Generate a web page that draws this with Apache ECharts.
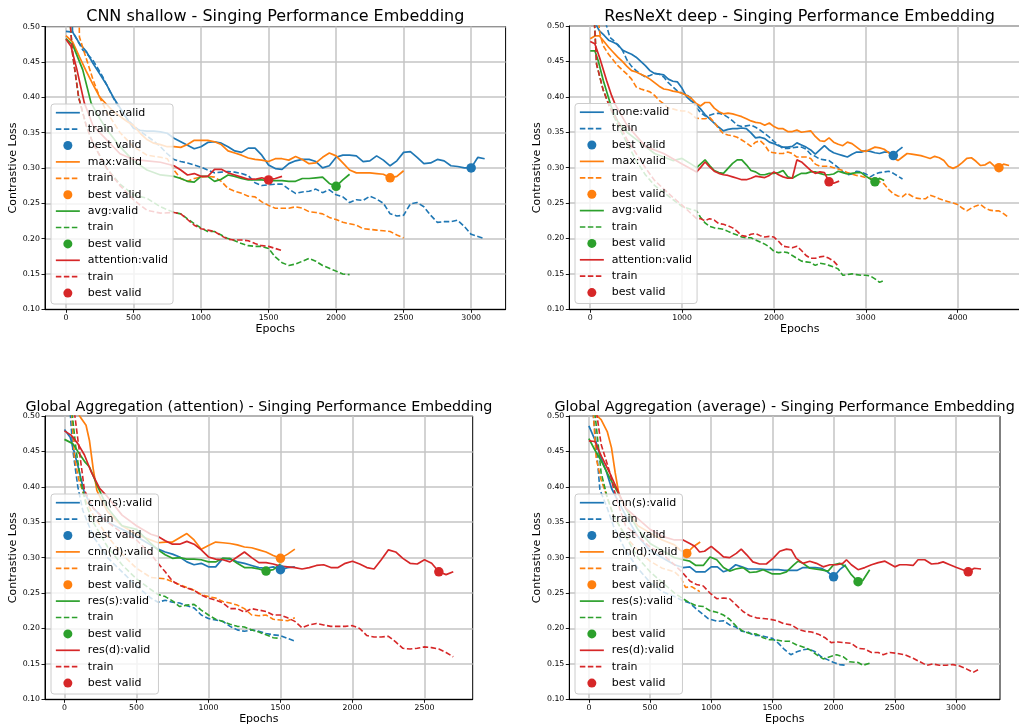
<!DOCTYPE html>
<html><head><meta charset="utf-8">
<script src="https://cdn.jsdelivr.net/npm/echarts@6/dist/echarts.min.js"></script>
<style>html,body{margin:0;padding:0;background:#fff}#c{width:1019px;height:725px}</style>
</head><body><div id="c"></div>
<script>
// ---------------- DATA ----------------
const titles = [
  'CNN shallow - Singing Performance Embedding',
  'ResNeXt deep - Singing Performance Embedding',
  'Global Aggregation (attention) - Singing Performance Embedding',
  'Global Aggregation (average) - Singing Performance Embedding'
];
const modelNames = [
  ['none','max','avg','attention'],
  ['none','max','avg','attention'],
  ['cnn(s)','cnn(d)','res(s)','res(d)'],
  ['cnn(s)','cnn(d)','res(s)','res(d)']
];
const xTicks = [
  [0,500,1000,1500,2000,2500,3000],
  [0,1000,2000,3000,4000],
  [0,500,1000,1500,2000,2500],
  [0,500,1000,1500,2000,2500,3000]
];
const xRanges = [[-155,3255],[-228,4788],[-135,2835],[-160,3360]];
const yRange = [0.10, 0.50, 0.05];

// ---- CNN shallow ----
const tl_none_valid = [[0,0.493],[50,0.492],[100,0.476],[150,0.465],[200,0.448],[250,0.433],[300,0.418],[350,0.40],[400,0.385],[450,0.37],[500,0.356],[550,0.353],[600,0.352],[650,0.352],[700,0.351],[750,0.349],[800,0.342],[850,0.337],[900,0.332],[950,0.327],[1000,0.330],[1050,0.336],[1100,0.337],[1150,0.335],[1200,0.33],[1250,0.324],[1300,0.322],[1350,0.328],[1400,0.328],[1450,0.318],[1500,0.304],[1550,0.299],[1600,0.298],[1650,0.306],[1700,0.31],[1750,0.312],[1800,0.312],[1850,0.309],[1900,0.30],[1950,0.303],[2000,0.315],[2050,0.318],[2100,0.318],[2150,0.317],[2200,0.309],[2250,0.31],[2300,0.317],[2350,0.311],[2400,0.303],[2450,0.31],[2500,0.322],[2550,0.323],[2600,0.315],[2650,0.306],[2700,0.307],[2750,0.312],[2800,0.31],[2850,0.303],[2900,0.302],[2950,0.30],[3000,0.30],[3050,0.315],[3100,0.313]];
const tl_none_train = [[0,0.85],[49,0.493],[124,0.467],[198,0.453],[272,0.429],[321,0.41],[371,0.392],[450,0.37],[500,0.36],[550,0.352],[600,0.345],[650,0.338],[700,0.33],[750,0.32],[800,0.312],[850,0.309],[900,0.307],[950,0.304],[1000,0.301],[1050,0.297],[1100,0.293],[1150,0.294],[1200,0.295],[1250,0.294],[1300,0.292],[1350,0.289],[1400,0.279],[1450,0.275],[1500,0.276],[1550,0.277],[1600,0.277],[1650,0.27],[1700,0.264],[1750,0.266],[1800,0.267],[1850,0.27],[1900,0.265],[1950,0.269],[2000,0.262],[2050,0.259],[2100,0.251],[2150,0.255],[2200,0.254],[2250,0.26],[2300,0.256],[2350,0.25],[2400,0.235],[2450,0.232],[2500,0.233],[2550,0.249],[2600,0.251],[2650,0.245],[2700,0.233],[2750,0.223],[2800,0.224],[2850,0.224],[2900,0.226],[2950,0.217],[3000,0.206],[3050,0.203],[3100,0.2]];
const tl_max_valid = [[0,0.487],[50,0.478],[100,0.457],[150,0.437],[200,0.418],[250,0.40],[300,0.39],[350,0.38],[400,0.373],[450,0.366],[500,0.36],[550,0.349],[600,0.34],[650,0.335],[700,0.333],[750,0.330],[800,0.330],[850,0.329],[900,0.333],[950,0.339],[1000,0.339],[1050,0.339],[1100,0.337],[1150,0.333],[1200,0.324],[1250,0.321],[1300,0.318],[1350,0.314],[1400,0.312],[1450,0.311],[1500,0.309],[1550,0.313],[1600,0.313],[1650,0.311],[1700,0.316],[1750,0.312],[1800,0.306],[1850,0.307],[1900,0.315],[1950,0.321],[2000,0.317],[2050,0.307],[2100,0.297],[2150,0.293],[2200,0.293],[2250,0.293],[2300,0.292],[2350,0.291],[2400,0.286],[2450,0.288],[2500,0.296]];
const tl_max_train = [[0,1.2],[90,0.6],[100,0.485],[150,0.455],[200,0.425],[250,0.40],[300,0.38],[400,0.35],[500,0.33],[600,0.318],[700,0.315],[750,0.313],[800,0.297],[850,0.285],[900,0.281],[950,0.285],[1000,0.287],[1050,0.288],[1100,0.287],[1150,0.281],[1200,0.271],[1250,0.267],[1300,0.264],[1350,0.26],[1400,0.259],[1450,0.252],[1500,0.247],[1550,0.243],[1600,0.243],[1650,0.243],[1700,0.245],[1750,0.243],[1800,0.238],[1850,0.237],[1900,0.235],[1950,0.23],[2000,0.227],[2050,0.223],[2100,0.221],[2150,0.219],[2200,0.214],[2250,0.213],[2300,0.212],[2350,0.211],[2400,0.21],[2450,0.205],[2500,0.201]];
const tl_avg_valid = [[0,0.483],[50,0.474],[124,0.439],[186,0.392],[250,0.37],[300,0.355],[400,0.33],[500,0.31],[600,0.297],[700,0.29],[800,0.288],[850,0.285],[900,0.281],[950,0.28],[1000,0.288],[1050,0.288],[1100,0.281],[1150,0.284],[1200,0.29],[1250,0.288],[1300,0.285],[1350,0.283],[1400,0.283],[1450,0.283],[1500,0.282],[1550,0.282],[1600,0.282],[1650,0.281],[1700,0.281],[1750,0.285],[1800,0.285],[1850,0.286],[1900,0.287],[1950,0.278],[2000,0.274],[2050,0.283],[2100,0.291]];
const tl_avg_train = [[0,0.85],[25,0.52],[50,0.46],[94,0.40],[150,0.36],[200,0.335],[300,0.30],[400,0.277],[500,0.262],[600,0.257],[700,0.245],[800,0.237],[850,0.235],[900,0.228],[950,0.221],[1000,0.215],[1050,0.21],[1100,0.21],[1150,0.205],[1200,0.2],[1250,0.197],[1300,0.193],[1350,0.19],[1400,0.189],[1450,0.189],[1500,0.186],[1550,0.174],[1600,0.166],[1650,0.162],[1700,0.164],[1750,0.168],[1800,0.172],[1850,0.168],[1900,0.162],[1950,0.158],[2000,0.154],[2050,0.15],[2100,0.149]];
const tl_att_valid = [[0,0.482],[37,0.472],[80,0.44],[136,0.392],[200,0.36],[300,0.34],[400,0.32],[500,0.312],[600,0.31],[700,0.308],[800,0.303],[850,0.297],[900,0.29],[950,0.292],[1000,0.288],[1050,0.288],[1100,0.298],[1150,0.298],[1200,0.293],[1250,0.29],[1300,0.287],[1350,0.284],[1400,0.284],[1450,0.286],[1500,0.283],[1550,0.285],[1600,0.288]];
const tl_att_train = [[0,0.85],[25,0.52],[50,0.46],[94,0.40],[150,0.36],[200,0.335],[300,0.3],[400,0.275],[500,0.255],[600,0.24],[700,0.236],[800,0.237],[850,0.235],[900,0.227],[950,0.219],[1000,0.214],[1050,0.212],[1100,0.21],[1150,0.204],[1200,0.199],[1250,0.198],[1300,0.198],[1350,0.197],[1400,0.193],[1450,0.19],[1500,0.189],[1550,0.186],[1600,0.183]];
const tl_best = [[3000,0.300],[2400,0.286],[2000,0.274],[1500,0.283]];

// ---- ResNeXt deep ----
const tr_none_valid = [[0,0.52],[50,0.505],[100,0.493],[150,0.487],[200,0.48],[250,0.477],[300,0.474],[350,0.466],[400,0.463],[450,0.46],[500,0.456],[550,0.45],[600,0.444],[650,0.437],[700,0.433],[750,0.432],[800,0.431],[850,0.425],[900,0.422],[950,0.421],[1000,0.412],[1050,0.4],[1100,0.394],[1150,0.39],[1200,0.383],[1250,0.375],[1300,0.369],[1350,0.363],[1400,0.357],[1450,0.352],[1500,0.354],[1550,0.355],[1600,0.355],[1650,0.356],[1700,0.355],[1750,0.349],[1800,0.342],[1850,0.343],[1900,0.341],[1950,0.336],[2000,0.334],[2050,0.331],[2100,0.329],[2150,0.329],[2200,0.33],[2250,0.335],[2300,0.332],[2350,0.329],[2400,0.325],[2450,0.319],[2500,0.325],[2550,0.331],[2600,0.325],[2650,0.321],[2700,0.319],[2750,0.317],[2800,0.315],[2850,0.319],[2900,0.322],[2950,0.322],[3000,0.324],[3050,0.323],[3100,0.321],[3150,0.32],[3200,0.322],[3250,0.322],[3300,0.317],[3350,0.324],[3400,0.329]];
const tr_none_train = [[0,0.9],[150,0.52],[178,0.5],[214,0.484],[250,0.48],[300,0.473],[350,0.466],[400,0.452],[450,0.443],[500,0.437],[550,0.432],[600,0.428],[650,0.43],[700,0.433],[750,0.432],[800,0.428],[850,0.42],[900,0.414],[950,0.408],[1000,0.405],[1050,0.403],[1100,0.398],[1150,0.386],[1200,0.378],[1250,0.373],[1300,0.374],[1350,0.376],[1400,0.377],[1450,0.375],[1500,0.371],[1550,0.366],[1600,0.36],[1650,0.358],[1700,0.359],[1750,0.36],[1800,0.357],[1850,0.353],[1900,0.348],[1950,0.343],[2000,0.337],[2050,0.332],[2100,0.327],[2150,0.327],[2200,0.328],[2250,0.329],[2300,0.329],[2350,0.326],[2400,0.319],[2450,0.316],[2500,0.312],[2550,0.311],[2600,0.31],[2650,0.305],[2700,0.3],[2750,0.294],[2800,0.29],[2850,0.291],[2900,0.295],[2950,0.294],[3000,0.291],[3050,0.287],[3100,0.291],[3150,0.293],[3200,0.294],[3250,0.295],[3300,0.292],[3350,0.288],[3400,0.284]];
const tr_max_valid = [[0,0.482],[50,0.486],[100,0.486],[150,0.478],[200,0.47],[250,0.463],[300,0.456],[350,0.45],[400,0.443],[450,0.437],[500,0.435],[550,0.432],[600,0.429],[650,0.425],[700,0.42],[750,0.415],[800,0.411],[850,0.41],[900,0.408],[950,0.407],[1000,0.405],[1050,0.402],[1100,0.398],[1150,0.391],[1200,0.387],[1250,0.392],[1300,0.392],[1350,0.384],[1400,0.379],[1450,0.376],[1500,0.377],[1550,0.376],[1600,0.374],[1650,0.372],[1700,0.369],[1750,0.366],[1800,0.364],[1850,0.363],[1900,0.36],[1950,0.363],[2000,0.358],[2050,0.355],[2100,0.355],[2150,0.351],[2200,0.351],[2250,0.353],[2300,0.35],[2350,0.351],[2400,0.352],[2450,0.344],[2500,0.338],[2550,0.337],[2600,0.342],[2650,0.336],[2700,0.333],[2750,0.331],[2800,0.336],[2850,0.334],[2900,0.329],[2950,0.324],[3000,0.323],[3050,0.326],[3100,0.329],[3150,0.328],[3200,0.326],[3250,0.321],[3300,0.314],[3350,0.31],[3400,0.315],[3450,0.32],[3500,0.319],[3550,0.318],[3600,0.317],[3650,0.315],[3700,0.313],[3750,0.316],[3800,0.314],[3850,0.31],[3900,0.302],[3950,0.299],[4000,0.302],[4050,0.307],[4100,0.313],[4150,0.314],[4200,0.309],[4250,0.303],[4300,0.304],[4350,0.308],[4400,0.302],[4450,0.30],[4500,0.305],[4560,0.303]];
const tr_max_train = [[0,0.9],[80,0.52],[105,0.489],[142,0.472],[200,0.46],[250,0.452],[300,0.444],[350,0.438],[400,0.432],[450,0.425],[500,0.414],[550,0.411],[600,0.409],[650,0.407],[700,0.402],[750,0.395],[800,0.39],[850,0.384],[900,0.383],[950,0.381],[1000,0.38],[1050,0.38],[1100,0.376],[1150,0.37],[1200,0.369],[1250,0.369],[1300,0.371],[1350,0.364],[1400,0.355],[1450,0.348],[1500,0.346],[1550,0.345],[1600,0.343],[1650,0.339],[1700,0.335],[1750,0.33],[1800,0.336],[1850,0.338],[1900,0.332],[1950,0.322],[2000,0.321],[2050,0.32],[2100,0.32],[2150,0.322],[2200,0.32],[2250,0.315],[2300,0.315],[2350,0.315],[2400,0.313],[2450,0.305],[2500,0.302],[2550,0.302],[2600,0.302],[2650,0.3],[2700,0.298],[2750,0.296],[2800,0.293],[2850,0.291],[2900,0.289],[2950,0.288],[3000,0.286],[3050,0.285],[3100,0.283],[3150,0.28],[3200,0.277],[3250,0.269],[3300,0.263],[3350,0.26],[3400,0.259],[3450,0.264],[3500,0.26],[3550,0.257],[3600,0.256],[3650,0.256],[3700,0.261],[3750,0.259],[3800,0.256],[3850,0.254],[3900,0.252],[3950,0.25],[4000,0.248],[4050,0.243],[4100,0.239],[4150,0.243],[4200,0.246],[4250,0.248],[4300,0.243],[4350,0.24],[4400,0.239],[4450,0.239],[4500,0.235],[4540,0.231]];
const tr_avg_valid = [[0,0.465],[50,0.465],[87,0.451],[142,0.423],[196,0.40],[232,0.385],[300,0.365],[400,0.35],[500,0.34],[600,0.33],[700,0.32],[800,0.315],[900,0.31],[1000,0.313],[1100,0.305],[1158,0.30],[1200,0.305],[1250,0.311],[1300,0.303],[1350,0.296],[1400,0.293],[1450,0.292],[1500,0.299],[1550,0.306],[1600,0.311],[1650,0.311],[1700,0.304],[1750,0.296],[1800,0.294],[1850,0.29],[1900,0.29],[1950,0.292],[2000,0.292],[2050,0.293],[2100,0.296],[2150,0.287],[2200,0.285],[2250,0.289],[2300,0.292],[2350,0.292],[2400,0.294],[2450,0.294],[2500,0.292],[2550,0.29],[2600,0.29],[2650,0.291],[2700,0.295],[2750,0.293],[2800,0.291],[2850,0.292],[2900,0.293],[2950,0.293],[3000,0.288],[3050,0.284],[3100,0.28],[3150,0.285],[3200,0.282]];
const tr_avg_train = [[0,0.9],[40,0.52],[69,0.446],[140,0.41],[214,0.385],[300,0.36],[400,0.335],[500,0.31],[600,0.29],[700,0.275],[800,0.265],[900,0.255],[1000,0.245],[1100,0.241],[1158,0.239],[1200,0.23],[1250,0.222],[1300,0.217],[1350,0.215],[1400,0.214],[1450,0.213],[1500,0.21],[1550,0.207],[1600,0.205],[1650,0.202],[1700,0.201],[1750,0.201],[1800,0.198],[1850,0.195],[1900,0.192],[1950,0.188],[2000,0.182],[2050,0.18],[2100,0.181],[2150,0.18],[2200,0.176],[2250,0.172],[2300,0.168],[2350,0.167],[2400,0.166],[2450,0.162],[2500,0.165],[2550,0.164],[2600,0.162],[2650,0.16],[2700,0.157],[2750,0.148],[2800,0.149],[2850,0.15],[2900,0.149],[2950,0.148],[3000,0.148],[3050,0.147],[3100,0.143],[3150,0.138],[3200,0.141]];
const tr_att_valid = [[0,0.478],[50,0.475],[105,0.454],[178,0.423],[232,0.402],[269,0.39],[400,0.36],[600,0.33],[800,0.32],[1000,0.305],[1158,0.294],[1200,0.30],[1250,0.308],[1300,0.301],[1350,0.295],[1400,0.292],[1450,0.29],[1500,0.289],[1550,0.287],[1600,0.285],[1650,0.283],[1700,0.283],[1750,0.285],[1800,0.288],[1850,0.287],[1900,0.286],[1950,0.289],[2000,0.294],[2050,0.29],[2100,0.287],[2150,0.285],[2200,0.285],[2250,0.311],[2300,0.308],[2350,0.302],[2400,0.296],[2450,0.292],[2500,0.294],[2550,0.293],[2600,0.28],[2650,0.278],[2710,0.281]];
const tr_att_train = [[0,0.9],[40,0.52],[69,0.446],[140,0.41],[214,0.385],[300,0.365],[400,0.34],[500,0.32],[600,0.3],[700,0.282],[800,0.27],[900,0.258],[1000,0.247],[1100,0.235],[1158,0.228],[1200,0.228],[1250,0.225],[1300,0.228],[1350,0.226],[1400,0.221],[1450,0.22],[1500,0.218],[1550,0.215],[1600,0.21],[1650,0.204],[1700,0.203],[1750,0.206],[1800,0.207],[1850,0.204],[1900,0.202],[1950,0.203],[2000,0.202],[2050,0.196],[2100,0.189],[2150,0.188],[2200,0.187],[2250,0.189],[2300,0.183],[2350,0.176],[2400,0.172],[2450,0.172],[2500,0.174],[2550,0.175],[2600,0.172],[2650,0.168],[2700,0.161]];
const tr_best = [[3300,0.317],[4450,0.300],[3100,0.280],[2600,0.280]];

// ---- Global Aggregation (attention) ----
const bl_cnns_valid = [[0,0.481],[40,0.47],[93,0.43],[139,0.391],[200,0.37],[300,0.35],[400,0.34],[500,0.33],[600,0.318],[650,0.312],[700,0.308],[750,0.305],[800,0.301],[850,0.294],[900,0.29],[950,0.292],[1000,0.287],[1050,0.287],[1100,0.299],[1150,0.298],[1200,0.294],[1250,0.292],[1300,0.289],[1350,0.286],[1400,0.285],[1450,0.287],[1500,0.283],[1550,0.286],[1600,0.287]];
const bl_cnns_train = [[0,0.9],[35,0.52],[58,0.452],[93,0.40],[127,0.367],[200,0.33],[300,0.3],[400,0.28],[500,0.26],[600,0.243],[650,0.237],[700,0.24],[750,0.237],[800,0.236],[850,0.232],[900,0.229],[950,0.219],[1000,0.214],[1050,0.212],[1100,0.21],[1150,0.203],[1200,0.198],[1250,0.196],[1300,0.198],[1350,0.196],[1400,0.193],[1450,0.191],[1500,0.19],[1550,0.186],[1600,0.182]];
const bl_cnnd_valid = [[0,0.56],[50,0.53],[105,0.5],[150,0.487],[174,0.465],[200,0.425],[225,0.395],[260,0.38],[300,0.365],[400,0.345],[500,0.333],[600,0.325],[650,0.321],[700,0.322],[750,0.322],[800,0.328],[850,0.334],[900,0.325],[950,0.312],[1000,0.317],[1050,0.322],[1100,0.321],[1150,0.32],[1200,0.318],[1250,0.315],[1300,0.314],[1350,0.311],[1400,0.308],[1450,0.303],[1500,0.299],[1550,0.305],[1600,0.312]];
const bl_cnnd_train = [[0,0.9],[45,0.52],[70,0.44],[100,0.41],[150,0.38],[200,0.36],[300,0.33],[400,0.305],[500,0.285],[600,0.272],[650,0.271],[700,0.27],[750,0.266],[800,0.262],[850,0.258],[900,0.254],[950,0.248],[1000,0.245],[1050,0.243],[1100,0.238],[1150,0.236],[1200,0.233],[1250,0.228],[1300,0.219],[1350,0.218],[1400,0.219],[1450,0.213],[1500,0.212],[1550,0.211],[1600,0.215]];
const bl_ress_valid = [[0,0.467],[58,0.461],[93,0.45],[139,0.436],[174,0.428],[232,0.40],[300,0.37],[400,0.345],[500,0.34],[600,0.32],[650,0.311],[700,0.304],[750,0.299],[800,0.3],[850,0.298],[900,0.298],[950,0.297],[1000,0.294],[1050,0.294],[1100,0.299],[1150,0.299],[1200,0.292],[1250,0.286],[1300,0.286],[1350,0.284],[1400,0.281],[1450,0.283],[1500,0.291]];
const bl_ress_train = [[0,0.9],[45,0.52],[81,0.452],[116,0.405],[150,0.375],[200,0.35],[300,0.315],[400,0.29],[500,0.27],[600,0.255],[650,0.248],[700,0.245],[750,0.239],[800,0.231],[850,0.233],[900,0.234],[950,0.226],[1000,0.219],[1050,0.213],[1100,0.21],[1150,0.206],[1200,0.203],[1250,0.202],[1300,0.198],[1350,0.195],[1400,0.191],[1450,0.187],[1500,0.186]];
const bl_resd_valid = [[0,0.479],[46,0.473],[93,0.461],[139,0.445],[186,0.421],[244,0.398],[290,0.388],[400,0.36],[500,0.345],[600,0.333],[650,0.33],[700,0.324],[750,0.319],[800,0.319],[850,0.323],[900,0.319],[950,0.311],[1000,0.301],[1050,0.298],[1100,0.297],[1150,0.294],[1200,0.301],[1250,0.308],[1300,0.30],[1350,0.293],[1400,0.293],[1450,0.291],[1500,0.288],[1550,0.287],[1600,0.286],[1650,0.284],[1700,0.286],[1750,0.289],[1800,0.29],[1850,0.286],[1900,0.286],[1950,0.292],[2000,0.295],[2050,0.291],[2100,0.286],[2150,0.284],[2200,0.297],[2250,0.311],[2300,0.308],[2350,0.299],[2400,0.292],[2450,0.291],[2500,0.297],[2550,0.292],[2600,0.28],[2650,0.276],[2700,0.28]];
const bl_resd_train = [[0,0.9],[60,0.52],[104,0.45],[139,0.395],[174,0.381],[200,0.37],[300,0.35],[400,0.335],[500,0.325],[600,0.305],[650,0.292],[700,0.28],[750,0.267],[800,0.261],[850,0.257],[900,0.254],[950,0.247],[1000,0.243],[1050,0.24],[1100,0.236],[1150,0.228],[1200,0.228],[1250,0.223],[1300,0.228],[1350,0.226],[1400,0.224],[1450,0.219],[1500,0.219],[1550,0.215],[1600,0.21],[1650,0.201],[1700,0.205],[1750,0.207],[1800,0.205],[1850,0.203],[1900,0.203],[1950,0.203],[2000,0.204],[2050,0.2],[2100,0.19],[2150,0.188],[2200,0.188],[2250,0.189],[2300,0.181],[2350,0.172],[2400,0.171],[2450,0.172],[2500,0.174],[2550,0.173],[2600,0.171],[2650,0.166],[2700,0.16]];
const bl_best = [[1500,0.283],[1500,0.299],[1400,0.281],[2600,0.280]];

// ---- Global Aggregation (average) ----
const br_cnns_valid = [[0,0.486],[63,0.461],[90,0.445],[144,0.421],[185,0.398],[226,0.384],[300,0.36],[400,0.33],[500,0.31],[600,0.30],[700,0.29],[770,0.286],[825,0.287],[875,0.28],[950,0.28],[1000,0.287],[1050,0.287],[1100,0.28],[1150,0.283],[1200,0.29],[1250,0.287],[1300,0.284],[1350,0.284],[1400,0.284],[1450,0.283],[1500,0.283],[1550,0.283],[1600,0.282],[1650,0.282],[1700,0.282],[1750,0.286],[1800,0.286],[1850,0.286],[1900,0.285],[1950,0.28],[2000,0.273],[2050,0.283],[2100,0.29]];
const br_cnns_train = [[0,0.9],[25,0.52],[49,0.48],[90,0.396],[150,0.37],[200,0.345],[300,0.31],[400,0.285],[500,0.265],[600,0.252],[700,0.245],[770,0.239],[825,0.236],[875,0.228],[925,0.221],[975,0.214],[1050,0.21],[1100,0.211],[1150,0.205],[1200,0.202],[1250,0.196],[1300,0.195],[1350,0.19],[1400,0.19],[1450,0.188],[1500,0.186],[1550,0.179],[1600,0.17],[1650,0.163],[1700,0.167],[1750,0.17],[1800,0.171],[1850,0.167],[1900,0.16],[1950,0.156],[2000,0.152],[2050,0.149],[2100,0.148]];
const br_cnnd_valid = [[0,0.515],[50,0.503],[100,0.495],[150,0.478],[185,0.455],[215,0.42],[245,0.39],[300,0.37],[400,0.345],[500,0.335],[600,0.325],[700,0.318],[750,0.31],[800,0.306],[850,0.315],[910,0.322]];
const br_cnnd_train = [[0,0.9],[30,0.52],[60,0.44],[100,0.41],[200,0.36],[300,0.33],[400,0.31],[500,0.295],[600,0.285],[700,0.28],[750,0.272],[790,0.258],[840,0.259],[907,0.252]];
const br_ress_valid = [[0,0.468],[49,0.452],[103,0.436],[172,0.412],[240,0.391],[300,0.37],[400,0.34],[500,0.32],[600,0.31],[700,0.30],[770,0.297],[825,0.295],[875,0.289],[935,0.289],[990,0.301],[1045,0.297],[1100,0.286],[1150,0.281],[1200,0.284],[1260,0.286],[1315,0.279],[1370,0.28],[1425,0.283],[1500,0.277],[1560,0.277],[1615,0.28],[1670,0.289],[1710,0.295],[1750,0.292],[1805,0.285],[1890,0.283],[1955,0.281],[2000,0.29],[2050,0.292],[2100,0.287],[2145,0.276],[2200,0.266],[2240,0.268],[2295,0.283]];
const br_ress_train = [[0,0.9],[40,0.52],[100,0.42],[150,0.385],[200,0.36],[300,0.33],[400,0.3],[500,0.28],[600,0.265],[700,0.25],[770,0.242],[825,0.236],[880,0.232],[935,0.231],[990,0.225],[1045,0.223],[1100,0.219],[1150,0.213],[1205,0.203],[1260,0.196],[1315,0.193],[1370,0.192],[1425,0.187],[1480,0.184],[1530,0.184],[1590,0.182],[1640,0.182],[1695,0.177],[1750,0.174],[1805,0.17],[1860,0.163],[1915,0.157],[1970,0.16],[2025,0.163],[2080,0.16],[2130,0.153],[2200,0.152],[2240,0.148],[2295,0.151]];
const br_resd_valid = [[0,0.465],[49,0.464],[103,0.443],[172,0.419],[240,0.393],[300,0.37],[400,0.355],[500,0.34],[600,0.33],[700,0.325],[770,0.325],[825,0.32],[865,0.316],[905,0.308],[945,0.309],[1000,0.316],[1055,0.308],[1100,0.301],[1150,0.30],[1205,0.306],[1245,0.312],[1290,0.304],[1340,0.294],[1395,0.291],[1450,0.291],[1505,0.299],[1560,0.309],[1615,0.312],[1655,0.311],[1695,0.299],[1750,0.292],[1805,0.295],[1860,0.292],[1915,0.287],[1970,0.29],[2025,0.29],[2075,0.292],[2105,0.297],[2145,0.29],[2200,0.283],[2255,0.286],[2310,0.29],[2365,0.293],[2420,0.295],[2460,0.291],[2500,0.287],[2540,0.29],[2595,0.29],[2650,0.289],[2690,0.297],[2745,0.297],[2800,0.291],[2855,0.292],[2895,0.294],[2950,0.29],[3005,0.286],[3055,0.283],[3100,0.28],[3150,0.285],[3205,0.284]];
const br_resd_train = [[0,0.9],[50,0.52],[100,0.46],[172,0.42],[199,0.40],[250,0.37],[300,0.345],[400,0.33],[500,0.315],[600,0.305],[700,0.29],[770,0.278],[825,0.267],[880,0.262],[935,0.26],[990,0.25],[1045,0.242],[1100,0.243],[1150,0.242],[1205,0.233],[1260,0.224],[1315,0.218],[1370,0.215],[1425,0.214],[1480,0.213],[1535,0.211],[1590,0.207],[1655,0.205],[1710,0.199],[1765,0.196],[1820,0.195],[1875,0.192],[1930,0.187],[1980,0.18],[2035,0.181],[2090,0.18],[2145,0.179],[2200,0.172],[2255,0.171],[2310,0.166],[2365,0.166],[2405,0.163],[2460,0.166],[2515,0.165],[2580,0.163],[2650,0.158],[2705,0.153],[2760,0.148],[2810,0.15],[2865,0.148],[2920,0.148],[2975,0.149],[3030,0.147],[3085,0.143],[3140,0.138],[3195,0.143]];
const br_best = [[2000,0.273],[800,0.306],[2200,0.266],[3100,0.280]];

// ---------------- BUILD ----------------
const validSets = [
  [tl_none_valid, tl_max_valid, tl_avg_valid, tl_att_valid],
  [tr_none_valid, tr_max_valid, tr_avg_valid, tr_att_valid],
  [bl_cnns_valid, bl_cnnd_valid, bl_ress_valid, bl_resd_valid],
  [br_cnns_valid, br_cnnd_valid, br_ress_valid, br_resd_valid]
];
const trainSets = [
  [tl_none_train, tl_max_train, tl_avg_train, tl_att_train],
  [tr_none_train, tr_max_train, tr_avg_train, tr_att_train],
  [bl_cnns_train, bl_cnnd_train, bl_ress_train, bl_resd_train],
  [br_cnns_train, br_cnnd_train, br_ress_train, br_resd_train]
];
const bestSets = [tl_best, tr_best, bl_best, br_best];

const COLORS = ['#1f77b4','#ff7f0e','#2ca02c','#d62728'];
const FONT = 'DejaVu Sans';
const layout = [
  {grid:{left:45, top:26.5, width:460.6, height:282.8}, legend:{left:51, top:104}, tSize:16, tTop:9},
  {grid:{left:569.3, top:26, width:460.7, height:283.3}, legend:{left:575, top:103.5}, tSize:16, tTop:9},
  {grid:{left:45, top:416, width:427.7, height:283.3}, legend:{left:51, top:494}, tSize:14.3, tTop:400},
  {grid:{left:569.3, top:416, width:430.7, height:283.3}, legend:{left:575, top:494}, tSize:14.3, tTop:400}
];

const grid = [], xAxis = [], yAxis = [], series = [], legend = [], title = [];
layout.forEach((L, i) => {
  grid.push(Object.assign({show:true, borderColor:'#000', borderWidth:1, backgroundColor:'transparent',
    containLabel:false, outerBoundsMode:'none'}, L.grid));
  title.push({text: titles[i], left: L.grid.left + L.grid.width/2, top: L.tTop, textAlign:'center', padding:0,
    textStyle:{fontFamily:FONT, fontSize:L.tSize, fontWeight:'normal', color:'#000'}});
  xAxis.push({type:'value', gridIndex:i, min:xRanges[i][0], max:xRanges[i][1],
    name:'Epochs', nameLocation:'middle', nameGap:14.5,
    nameTextStyle:{fontFamily:FONT, fontSize:11, color:'#000'},
    axisLine:{show:true, onZero:false, lineStyle:{color:'#000', width:1}},
    axisTick:{show:true, length:3.5, customValues:xTicks[i], lineStyle:{color:'#000', width:0.9}},
    axisLabel:{customValues:xTicks[i], fontFamily:FONT, fontSize:7.8, color:'#000', margin:5, formatter:v => String(v)},
    splitLine:{show:true, lineStyle:{color:'#c4c4c4', width:1.5}}});
  yAxis.push({type:'value', gridIndex:i, min:yRange[0], max:yRange[1], interval:yRange[2],
    name:'Contrastive Loss', nameLocation:'middle', nameGap:26,
    nameTextStyle:{fontFamily:FONT, fontSize:11, color:'#000'},
    axisLine:{show:true, onZero:false, lineStyle:{color:'#000', width:1}},
    axisTick:{show:true, length:3.5, lineStyle:{color:'#000', width:0.9}},
    axisLabel:{fontFamily:FONT, fontSize:7.8, color:'#000', margin:5, formatter:v => v.toFixed(2)},
    splitLine:{show:true, lineStyle:{color:'#c4c4c4', width:1.5}}});
  const ldata = [];
  modelNames[i].forEach((m, j) => {
    const c = COLORS[j];
    const vName = 'p'+i+'|'+m+':valid';
    const tName = 'p'+i+'-'+m+'|train';
    const bName = 'p'+i+'-'+m+'|best valid';
    series.push({type:'line', name:vName, xAxisIndex:i, yAxisIndex:i, data:validSets[i][j],
      symbol:'none', showSymbol:false, silent:true, emphasis:{disabled:true},
      lineStyle:{color:c, width:1.7}, itemStyle:{color:c}});
    series.push({type:'line', name:tName, xAxisIndex:i, yAxisIndex:i, data:trainSets[i][j],
      symbol:'none', showSymbol:false, silent:true, emphasis:{disabled:true},
      lineStyle:{color:c, width:1.6, type:[5.5,2.5]}, itemStyle:{color:c}});
    series.push({type:'scatter', name:bName, xAxisIndex:i, yAxisIndex:i, data:[bestSets[i][j]],
      symbol:'circle', symbolSize:9.5, silent:true, emphasis:{disabled:true}, z:3,
      itemStyle:{color:c, opacity:1}});
    ldata.push({name:vName, itemStyle:{opacity:0}}, {name:tName, itemStyle:{opacity:0}}, {name:bName});
  });
  legend.push({data:ldata, orient:'vertical', left:L.legend.left, top:L.legend.top,
    itemWidth:24, itemHeight:9, itemGap:4.4, selectedMode:false,
    padding:[2.7,5,4.9,4], backgroundColor:'rgba(255,255,255,0.8)', borderColor:'#cccccc', borderWidth:1, borderRadius:3,
    lineStyle:{width:1.7},
    formatter: n => n.slice(n.indexOf('|')+1),
    textStyle:{fontFamily:FONT, fontSize:11, color:'#000', lineHeight:12, padding:[0,0,0,3]}});
});

const chart = echarts.init(document.getElementById('c'), null, {renderer:'canvas'});
chart.setOption({animation:false, backgroundColor:'#fff', title, grid, xAxis, yAxis, legend, series});
</script>
</body></html>
